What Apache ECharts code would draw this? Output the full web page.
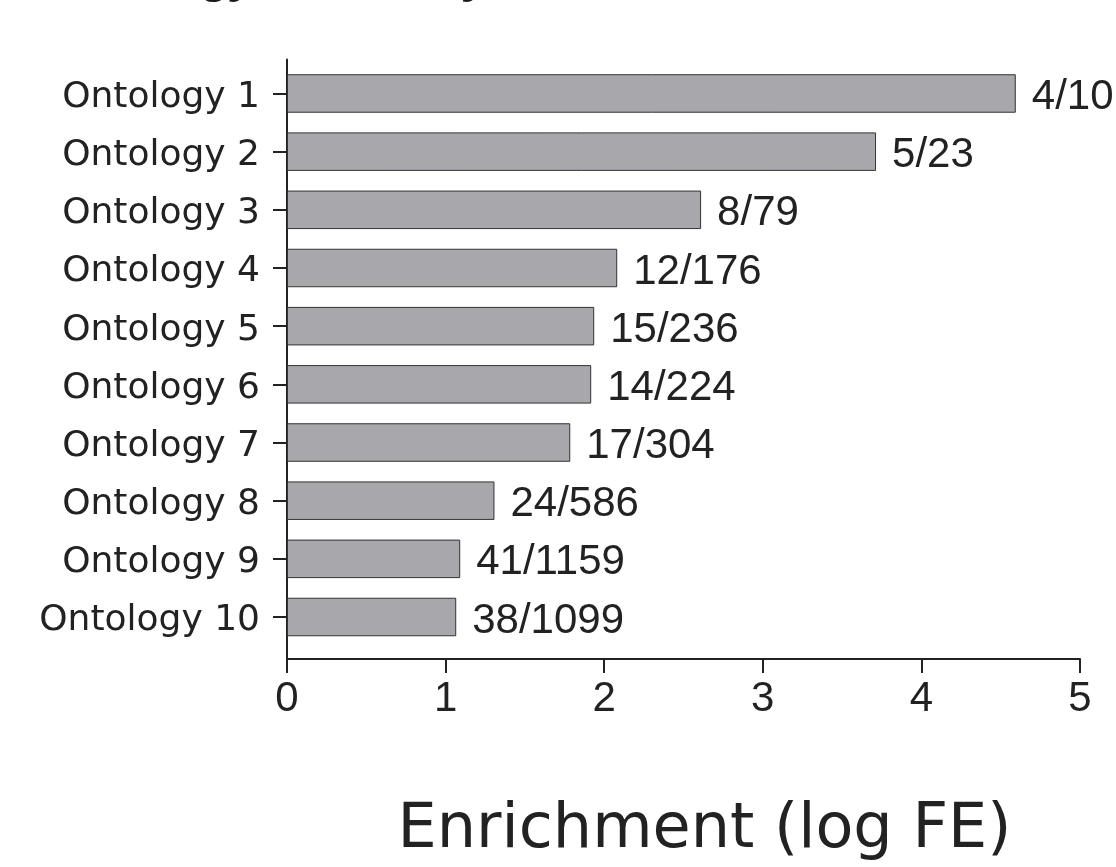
<!DOCTYPE html>
<html>
<head>
<meta charset="utf-8">
<script src="https://cdn.jsdelivr.net/npm/echarts@6/dist/echarts.min.js"></script>
<style>
  html, body { margin: 0; padding: 0; background: #fff; }
  #chart { width: 1116px; height: 867px; }
</style>
</head>
<body>
<div id="chart"></div>
<script>
// Gene ontology terms, their log fold enrichment and hit counts (genes in list / genes in term)
const categories = ['Ontology 1', 'Ontology 2', 'Ontology 3', 'Ontology 4', 'Ontology 5',
                    'Ontology 6', 'Ontology 7', 'Ontology 8', 'Ontology 9', 'Ontology 10'];
const enrichment = [4.595, 3.714, 2.611, 2.082, 1.937, 1.918, 1.786, 1.308, 1.092, 1.067];
const ratios = ['4/10', '5/23', '8/79', '12/176', '15/236', '14/224', '17/304', '24/586', '41/1159', '38/1099'];
const xTicks = [0, 1, 2, 3, 4, 5];

const INK = '#222222';
const chart = echarts.init(document.getElementById('chart'), null, { renderer: 'canvas' });

chart.setOption({
  animation: false,
  backgroundColor: '#ffffff',
  title: {
    text: 'Ontology, Summary',
    left: 50,
    top: -49,
    textStyle: {
      fontFamily: 'Liberation Sans',
      fontSize: 46,
      fontWeight: 'bold',
      fontStyle: 'italic',
      color: '#1a1a1a'
    }
  },
  grid: [
    // bars
    { left: 287, width: 793, top: 64.4, height: 581.7 },
    // frame: value axis along the bottom and the vertical axis line
    { left: 287, width: 793, top: 59.5, height: 599.5 }
  ],
  xAxis: [
    { gridIndex: 0, type: 'value', min: xTicks[0], max: xTicks[xTicks.length - 1], show: false },
    {
      gridIndex: 1, type: 'value', position: 'bottom',
      min: xTicks[0], max: xTicks[xTicks.length - 1], interval: 1,
      name: 'Enrichment (log FE)',
      nameLocation: 'middle',
      nameGap: 141,
      nameTextStyle: { fontFamily: 'DejaVu Sans', fontSize: 62, color: INK, padding: [0, 0, 0, 42] },
      axisLine: { show: true, lineStyle: { color: INK, width: 2 } },
      axisTick: { show: true, inside: false, length: 14, lineStyle: { color: INK, width: 2 } },
      axisLabel: { fontFamily: 'Liberation Sans', fontSize: 42, color: INK, margin: 19,
                   formatter: v => String(v) },
      splitLine: { show: false }
    }
  ],
  yAxis: [
    {
      gridIndex: 0, type: 'category', data: categories, inverse: true,
      axisLine: { show: false },
      axisTick: { show: true, alignWithLabel: true, length: 14, lineStyle: { color: INK, width: 2 } },
      axisLabel: {
        margin: 27,
        formatter: v => '{t|' + v + '}',
        rich: { t: { fontFamily: 'DejaVu Sans', fontSize: 36, color: INK, padding: [8, 0, 0, 0] } }
      },
      splitLine: { show: false }
    },
    {
      gridIndex: 1, type: 'value', min: 0, max: 1,
      axisLine: { show: true, lineStyle: { color: INK, width: 2 } },
      axisTick: { show: false },
      axisLabel: { show: false },
      splitLine: { show: false }
    }
  ],
  series: [{
    type: 'bar',
    xAxisIndex: 0,
    yAxisIndex: 0,
    data: enrichment,
    barWidth: 38.5,
    itemStyle: { color: '#a8a7ab', borderColor: '#333333', borderWidth: 1 },
    label: {
      show: true,
      position: 'right',
      distance: 16,
      offset: [0, 4],
      formatter: p => ratios[p.dataIndex],
      fontFamily: 'Liberation Sans',
      fontSize: 42,
      color: INK
    }
  }]
});
</script>
</body>
</html>
